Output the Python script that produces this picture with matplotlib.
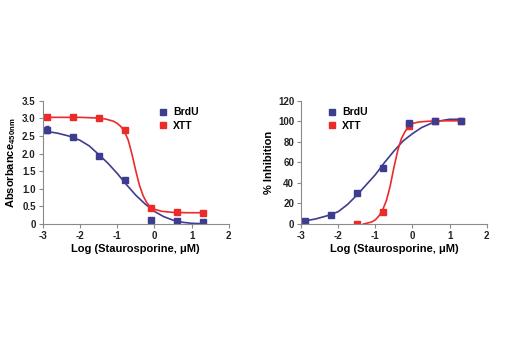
import matplotlib
matplotlib.use("Agg")
import matplotlib.pyplot as plt
from matplotlib.lines import Line2D

plt.rcParams['font.family'] = ['Liberation Sans Narrow', 'Liberation Sans', 'DejaVu Sans']
plt.rcParams['font.weight'] = 'bold'
plt.rcParams['axes.unicode_minus'] = False

# 濃度 (log, uM)
log_conc = [-2.89, -2.19, -1.49, -0.80, -0.10, 0.60, 1.30]

# 左圖 Absorbance
brdu_abs = [2.68, 2.48, 1.92, 1.25, 0.12, 0.08, 0.07]
brdu_abs_err = [0.10, 0.05, 0.03, 0.03, 0.02, 0.02, 0.02]
xtt_abs = [3.03, 3.03, 3.00, 2.68, 0.46, 0.33, 0.32]

# 左圖擬合曲線
brdu_abs_fit_x = [-2.89, -2.6, -2.3, -2.0, -1.75, -1.5, -1.25, -1.0, -0.75, -0.5, -0.25, 0.0, 0.25, 0.5, 0.75, 1.0, 1.3]
brdu_abs_fit_y = [2.63, 2.58, 2.50, 2.38, 2.22, 1.98, 1.73, 1.44, 1.12, 0.82, 0.57, 0.36, 0.21, 0.11, 0.05, 0.02, 0.01]
xtt_abs_fit_x = [-2.89, -2.0, -1.5, -1.3, -1.1, -1.0, -0.9, -0.8, -0.7, -0.6, -0.5, -0.4, -0.3, -0.2, -0.1, 0.0, 0.2, 0.5, 0.9, 1.3]
xtt_abs_fit_y = [3.03, 3.03, 3.01, 2.98, 2.92, 2.86, 2.77, 2.62, 2.38, 1.98, 1.52, 1.10, 0.80, 0.60, 0.48, 0.42, 0.36, 0.33, 0.32, 0.32]

# 右圖 % Inhibition
brdu_inh = [3, 9, 30, 55, 98, 100, 100]
brdu_inh_err = [2, 2, 2, 1, 1, 1, 1]
xtt_conc = [-1.49, -0.80, -0.10, 0.60, 1.30]
xtt_inh = [0, 12, 95, 100, 100]

brdu_inh_fit_x = [-2.89, -2.6, -2.3, -2.0, -1.75, -1.5, -1.25, -1.0, -0.75, -0.5, -0.25, 0.0, 0.25, 0.5, 0.75, 1.0, 1.3]
brdu_inh_fit_y = [3, 5, 8, 12, 19, 28, 38, 48, 60, 71, 81, 88, 94, 98, 100.5, 102, 102]
xtt_inh_fit_x = [-1.32, -1.2, -1.1, -1.0, -0.9, -0.8, -0.7, -0.6, -0.5, -0.4, -0.3, -0.2, -0.1, 0.0, 0.2, 0.4, 0.7, 1.0, 1.3]
xtt_inh_fit_y = [0, 1, 2, 4, 8, 14, 23, 37, 55, 71, 83, 90, 95, 98, 99.5, 100, 100.5, 100.5, 100.5]

navy = '#3d3d8f'
red = '#ec2a2a'
spine_col = '#8a8a8a'
ms = 5

fig = plt.figure(figsize=(5.2, 3.5), dpi=100)
ax1 = fig.add_axes([0.082, 0.36, 0.358, 0.352])
ax2 = fig.add_axes([0.579, 0.36, 0.357, 0.352])


def style(ax):
    for s in ['top', 'right']:
        ax.spines[s].set_visible(False)
    for s in ['left', 'bottom']:
        ax.spines[s].set_color(spine_col)
        ax.spines[s].set_linewidth(0.8)
    ax.tick_params(direction='out', length=3, width=0.8, color=spine_col,
                   labelsize=7, pad=2, labelcolor='#222222')
    ax.set_xlim(-3, 2)
    ax.set_xticks([-3, -2, -1, 0, 1, 2])
    ax.set_xlabel('Log (Staurosporine, μM)', fontsize=8, fontweight='bold', labelpad=2)


def add_legend(ax, anchor):
    handles = [Line2D([], [], ls='none', marker='s', color=navy, ms=ms),
               Line2D([], [], ls='none', marker='s', color=red, ms=ms)]
    ax.legend(handles, ['BrdU', 'XTT'], loc='upper left', bbox_to_anchor=anchor,
              frameon=False, fontsize=7.5, handlelength=0.8, handletextpad=0.6,
              labelspacing=0.3, borderaxespad=0)


# 左圖
style(ax1)
ax1.plot(brdu_abs_fit_x, brdu_abs_fit_y, color=navy, lw=1.2)
ax1.plot(xtt_abs_fit_x, xtt_abs_fit_y, color=red, lw=1.2)
ax1.errorbar(log_conc, brdu_abs, yerr=brdu_abs_err, fmt='s', color=navy,
             ms=ms, elinewidth=0.8, capsize=1.5)
ax1.plot(log_conc, xtt_abs, 's', color=red, ms=ms)
ax1.set_ylim(0, 3.5)
ax1.set_yticks([0, 0.5, 1.0, 1.5, 2.0, 2.5, 3.0, 3.5])
ax1.set_yticklabels(['0', '0.5', '1.0', '1.5', '2.0', '2.5', '3.0', '3.5'])
ax1.set_ylabel(r'Absorbance$_{\mathregular{450nm}}$', fontsize=8, fontweight='bold', labelpad=3)
add_legend(ax1, (0.6, 0.98))

# 右圖
style(ax2)
ax2.plot(brdu_inh_fit_x, brdu_inh_fit_y, color=navy, lw=1.2)
ax2.plot(xtt_inh_fit_x, xtt_inh_fit_y, color=red, lw=1.2)
ax2.errorbar(log_conc, brdu_inh, yerr=brdu_inh_err, fmt='s', color=navy,
             ms=ms, elinewidth=0.8, capsize=1.5)
ax2.plot(xtt_conc, xtt_inh, 's', color=red, ms=ms)
ax2.set_ylim(0, 120)
ax2.set_yticks([0, 20, 40, 60, 80, 100, 120])
ax2.set_ylabel('% Inhibition', fontsize=8, fontweight='bold', labelpad=3)
add_legend(ax2, (0.12, 0.98))

fig.savefig('out.png', dpi=100)
